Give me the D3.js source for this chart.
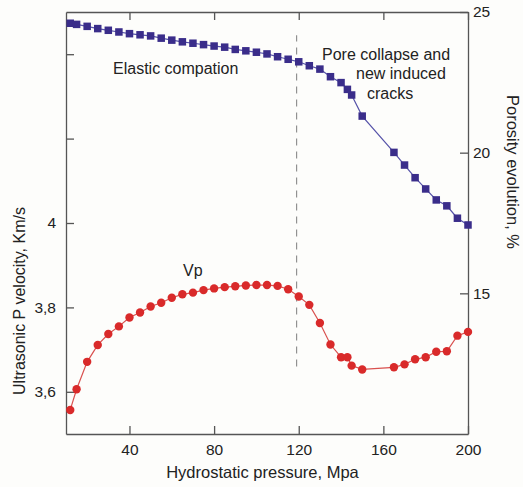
<!DOCTYPE html>
<html>
<head>
<meta charset="utf-8">
<script src="https://cdn.jsdelivr.net/npm/d3@7/dist/d3.min.js"></script>
<style>
  html, body { margin: 0; padding: 0; background: #fdfdfb; }
  svg { display: block; font-family: "Liberation Sans", Arial, sans-serif; }
  text { fill: #222; }
</style>
</head>
<body>
<svg id="chart" width="523" height="487"></svg>
<script>
// ---- data ----
const pressure = [12,15,20,25,30,35,40,45,50,55,60,65,70,75,80,85,90,95,100,105,110,115,120,125,130,135,140,143,145,150,165,170,175,180,185,190,195,200];
const porosity = [24.60,24.56,24.49,24.41,24.35,24.29,24.23,24.19,24.15,24.07,24.00,23.94,23.89,23.84,23.79,23.75,23.67,23.62,23.57,23.51,23.41,23.32,23.23,23.09,22.97,22.70,22.49,22.25,22.05,21.30,20.01,19.56,19.11,18.71,18.32,18.11,17.67,17.43];
const vp = [3.557,3.606,3.671,3.711,3.737,3.755,3.776,3.788,3.802,3.811,3.823,3.831,3.835,3.841,3.845,3.848,3.850,3.852,3.853,3.853,3.851,3.843,3.826,3.806,3.763,3.712,3.682,3.682,3.662,3.653,3.658,3.665,3.677,3.682,3.695,3.696,3.733,3.742];
const xTicks = [40,80,120,160,200];
const leftTicks = [3.6,3.8,4.0,4.2,4.4];
const leftTickLabels = ["3,6","3,8","4","",""];
const rightTicks = [15,20,25];
const dividerX = 119;
const dividerRange = [3.66,4.445];

// ---- layout ----
const W = 523, H = 487;
const L = 66, R = 468, T = 12, B = 434;
const svg = d3.select("#chart");

const x = d3.scaleLinear().domain([10,200]).range([L,R]);
const yL = d3.scaleLinear().domain([3.5,4.5]).range([B,T]);
const yR = d3.scaleLinear().domain([10,25]).range([B,T]);

const axisColor = "#555";
function styleAxis(g){
  g.selectAll(".domain").attr("stroke", axisColor).attr("stroke-width", 1.3);
  g.selectAll(".tick line").attr("stroke", axisColor).attr("stroke-width", 1.3);
  g.selectAll(".tick text").attr("fill", "#222").style("font-size", "15.5px")
    .style("font-family", "'Liberation Sans', Arial, sans-serif");
}

// bottom
svg.append("g").attr("transform", `translate(0,${B})`)
  .call(d3.axisBottom(x).tickValues(xTicks).tickSizeInner(-8).tickSizeOuter(0).tickPadding(10).tickFormat(d3.format("d")))
  .call(styleAxis);
// top
svg.append("g").attr("transform", `translate(0,${T})`)
  .call(d3.axisTop(x).tickValues(xTicks).tickSizeInner(-8).tickSizeOuter(0).tickFormat(""))
  .call(styleAxis);
// left
svg.append("g").attr("transform", `translate(${L},0)`)
  .call(d3.axisLeft(yL).tickValues(leftTicks).tickSizeInner(-8).tickSizeOuter(0).tickPadding(10)
        .tickFormat((d,i) => leftTickLabels[i]))
  .call(styleAxis);
// right
svg.append("g").attr("transform", `translate(${R},0)`)
  .call(d3.axisRight(yR).tickValues(rightTicks).tickSizeInner(-8).tickSizeOuter(0).tickPadding(5).tickFormat(d3.format("d")))
  .call(styleAxis);

// divider dashed line
svg.append("line")
  .attr("x1", x(dividerX)).attr("x2", x(dividerX))
  .attr("y1", yL(dividerRange[0])).attr("y2", yL(dividerRange[1]))
  .attr("stroke", "#8a8a8a").attr("stroke-width", 1.1).attr("stroke-dasharray", "7,6");

// porosity series
const blueLine = "#5552a8", blueFill = "#3a2d8a";
svg.append("path")
  .attr("d", d3.line().x((d,i) => x(pressure[i])).y(d => yR(d))(porosity))
  .attr("fill", "none").attr("stroke", blueLine).attr("stroke-width", 1.2);
const sq = 7.5;
svg.append("g").selectAll("rect").data(porosity).join("rect")
  .attr("x", (d,i) => x(pressure[i]) - sq/2)
  .attr("y", d => yR(d) - sq/2)
  .attr("width", sq).attr("height", sq)
  .attr("fill", blueFill);

// vp series
const redLine = "#d9514f", redFill = "#d92a2a";
svg.append("path")
  .attr("d", d3.line().x((d,i) => x(pressure[i])).y(d => yL(d))(vp))
  .attr("fill", "none").attr("stroke", redLine).attr("stroke-width", 1.2);
svg.append("g").selectAll("circle").data(vp).join("circle")
  .attr("cx", (d,i) => x(pressure[i]))
  .attr("cy", d => yL(d))
  .attr("r", 4.2)
  .attr("fill", redFill);

// annotations
const ann = [
  {t:"Elastic compation", x:113, y:74},
  {t:"Pore collapse and", x:322, y:59.5},
  {t:"new induced", x:356, y:78.5},
  {t:"cracks", x:367, y:99},
  {t:"Vp", x:183, y:276}
];
svg.append("g").selectAll("text").data(ann).join("text")
  .attr("x", d => d.x).attr("y", d => d.y)
  .style("font-size", "16px")
  .text(d => d.t);

// axis titles
svg.append("text").attr("x", 262.5).attr("y", 478).attr("text-anchor", "middle")
  .style("font-size", "16.5px").text("Hydrostatic pressure, Mpa");
svg.append("text").attr("transform", "translate(25,301) rotate(-90)").attr("text-anchor", "middle")
  .style("font-size", "16px").text("Ultrasonic P velocity, Km/s");
svg.append("text").attr("transform", "translate(507,172) rotate(90)").attr("text-anchor", "middle")
  .style("font-size", "16.5px").text("Porosity evolution, %");
</script>
</body>
</html>
